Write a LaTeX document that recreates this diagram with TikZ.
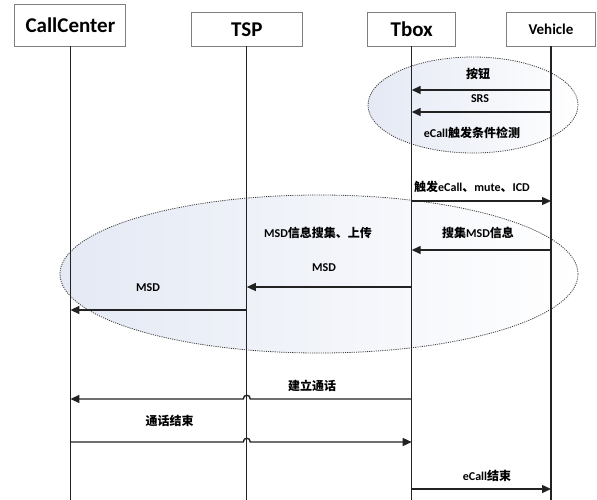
\documentclass[tikz,border=0pt]{standalone}
\usepackage{fontspec}
\setmainfont{Carlito}
\newfontfamily\cjkfont{Noto Sans CJK SC}
\newcommand\zhx[1]{{\cjkfont #1}}
\usetikzlibrary{arrows.meta,calc}
\definecolor{boxgray}{HTML}{7F7F7F}
\definecolor{linec}{HTML}{222222}
\definecolor{dotc}{HTML}{3C3C3C}
\definecolor{shadec}{RGB}{228,233,244}
\begin{document}
\begin{tikzpicture}[x=1pt,y=-1pt,
  hdr/.style={draw=boxgray, line width=0.9pt, inner sep=0pt, font=\bfseries, text=black},
  life/.style={draw=linec, line width=1.3pt},
  msg/.style={draw=linec, line width=1.4pt, -{Triangle[length=9pt,width=8pt]}},
  lbl/.style={font=\bfseries\fontsize{12}{14}\selectfont, inner sep=0pt, text=black},
  grp/.style={draw=dotc, line width=0.8pt, dash pattern=on 1.1pt off 1.1pt, left color=shadec, middle color=shadec!35!white, right color=white}
]
\useasboundingbox (0,0) rectangle (597,500);

% group ellipses (behind)
\path[grp] (473,105) ellipse [x radius=105pt, y radius=48pt];
\path[grp] (319,274) ellipse [x radius=259pt, y radius=79pt];

% headers
\node[hdr, minimum width=111pt, minimum height=42pt, font=\bfseries\fontsize{21}{24}\selectfont] (cc) at (70.4,25) {CallCenter};
\node[hdr, minimum width=111.5pt, minimum height=33.3pt, font=\bfseries\fontsize{21}{24}\selectfont] (tsp) at (246.8,29.4) {TSP};
\node[hdr, minimum width=88pt, minimum height=33.3pt, font=\bfseries\fontsize{21}{24}\selectfont] (tb) at (411.7,29.4) {Tbox};
\node[hdr, minimum width=88.5pt, minimum height=33.3pt, font=\bfseries\fontsize{15}{18}\selectfont] (vh) at (551,29.4) {Vehicle};

% lifelines
\coordinate (ccE) at (cc |- 0,500);
\coordinate (tspE) at (tsp |- 0,500);
\coordinate (tbE) at (tb |- 0,500);
\coordinate (vhE) at (vh |- 0,500);
\draw[life] (cc.south) -- (ccE);
\draw[life] (tsp.south) -- (tspE);
\draw[life] (tb.south) -- (tbE);
\draw[life] (vh.south) -- (vhE);

% labels
\node[lbl] (l1) at (478,74) {\zhx{按钮}};
\node[lbl] (l2) at (480,99) {SRS};
\node[lbl] (l3) at (472,133) {eCall\zhx{触发条件检测}};
\node[lbl] (l4) at (472,187) {\zhx{触发}eCall\zhx{、}mute\zhx{、}ICD};
\node[lbl] (l5) at (318,233) {MSD\zhx{信息搜集、上传}};
\node[lbl] (l6) at (478,233) {\zhx{搜集}MSD\zhx{信息}};
\node[lbl] (l7) at (324,268) {MSD};
\node[lbl] (l8) at (148,288) {MSD};
\node[lbl] (l9) at (312,386) {\zhx{建立通话}};
\node[lbl] (l10) at (169.5,421) {\zhx{通话结束}};
\node[lbl] (l11) at (487,476) {eCall\zhx{结束}};

% messages
\draw[msg] (vh |- 0,90) -- (tb |- 0,90);
\draw[msg] (vh |- 0,112) -- (tb |- 0,112);
\draw[msg] (tb |- 0,201) -- (vh |- 0,201);
\draw[msg] (vh |- 0,250) -- (tb |- 0,250);
\draw[msg] (tb |- 0,287) -- (tsp |- 0,287);
\draw[msg] (tsp |- 0,310) -- (cc |- 0,310);

% messages with hop over TSP lifeline
\coordinate (h1r) at ($(tsp |- 0,399)+(3.5,0)$);
\coordinate (h1l) at ($(tsp |- 0,399)+(-3.5,0)$);
\draw[msg] (tb |- 0,399) -- (h1r) .. controls ($(h1r)+(0,-5)$) and ($(h1l)+(0,-5)$) .. (h1l) -- (cc |- 0,399);
\coordinate (h2l) at ($(tsp |- 0,442)+(-3.5,0)$);
\coordinate (h2r) at ($(tsp |- 0,442)+(3.5,0)$);
\draw[msg] (cc |- 0,442) -- (h2l) .. controls ($(h2l)+(0,-5)$) and ($(h2r)+(0,-5)$) .. (h2r) -- (tb |- 0,442);

\draw[msg] (tb |- 0,489) -- (vh |- 0,489);
\end{tikzpicture}
\end{document}
